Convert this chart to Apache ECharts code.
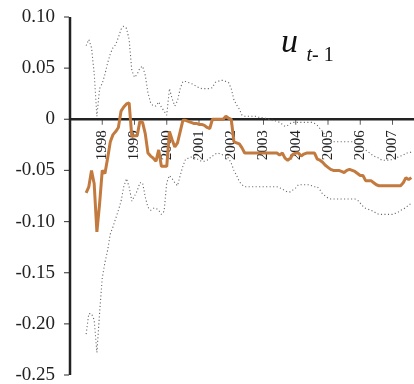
<!DOCTYPE html>
<html>
<head>
<meta charset="utf-8">
<script src="https://cdn.jsdelivr.net/npm/echarts@6/dist/echarts.min.js"></script>
<style>html,body{margin:0;padding:0;background:#fff}#c{width:414px;height:384px}</style>
</head>
<body>
<div id="c"></div>
<script>
// month index of first observation (0 = axis start, 12 = 1998 tick)
const startMonth = 6;
const yearLabels = ['1998','1999','2000','2001','2002','2003','2004','2005','2006','2007'];
const xTickValues = [12, 24, 36, 48, 60, 72, 84, 96, 108, 120];
const yTickValues = [-0.25, -0.20, -0.15, -0.10, -0.05, 0, 0.05, 0.10];
const xRange = [0, 128];
const yRange = [-0.25, 0.10];

const coef = [
 -0.072,-0.066,-0.050,-0.063,-0.110,-0.083,-0.050,-0.053,-0.038,-0.022,
 -0.015,-0.012,-0.008,0.008,0.012,0.015,0.016,-0.017,-0.016,-0.016,
 -0.002,-0.003,-0.014,-0.033,-0.036,-0.038,-0.041,-0.030,-0.046,-0.046,
 -0.046,-0.012,-0.020,-0.027,-0.023,-0.012,-0.001,-0.001,-0.002,-0.003,
 -0.004,-0.004,-0.005,-0.005,-0.006,-0.008,-0.009,0.000,0.000,0.000,
 0.000,0.000,0.003,0.001,0.000,-0.022,-0.023,-0.024,-0.028,-0.033,
 -0.033,-0.033,-0.033,-0.033,-0.033,-0.033,-0.033,-0.033,-0.033,-0.033,
 -0.033,-0.033,-0.035,-0.033,-0.038,-0.040,-0.038,-0.034,-0.033,-0.033,
 -0.036,-0.034,-0.033,-0.033,-0.033,-0.033,-0.039,-0.040,-0.042,-0.045,
 -0.047,-0.049,-0.050,-0.050,-0.050,-0.051,-0.052,-0.050,-0.049,-0.050,
 -0.051,-0.053,-0.055,-0.055,-0.060,-0.060,-0.060,-0.062,-0.064,-0.065,
 -0.065,-0.065,-0.065,-0.065,-0.065,-0.065,-0.065,-0.065,-0.062,-0.057,
 -0.059,-0.057
];

const upper = [
 0.072,0.078,0.070,0.045,0.003,0.030,0.035,0.044,0.055,0.064,
 0.070,0.073,0.080,0.088,0.091,0.089,0.078,0.048,0.041,0.044,
 0.050,0.052,0.043,0.026,0.016,0.013,0.013,0.017,0.012,0.008,
 0.004,0.030,0.020,0.013,0.018,0.030,0.037,0.037,0.036,0.035,
 0.034,0.032,0.031,0.030,0.030,0.030,0.030,0.031,0.036,0.037,
 0.038,0.038,0.037,0.036,0.030,0.019,0.014,0.010,0.004,0.003,
 0.003,0.003,0.003,0.003,0.002,0.002,0.001,0.001,0.000,-0.001,
 -0.001,-0.002,-0.003,-0.005,-0.007,-0.006,-0.004,-0.003,-0.003,-0.003,
 -0.003,-0.003,-0.003,-0.003,-0.003,-0.004,-0.006,-0.009,-0.012,-0.016,
 -0.019,-0.022,-0.022,-0.022,-0.022,-0.022,-0.022,-0.022,-0.022,-0.022,
 -0.022,-0.024,-0.026,-0.028,-0.030,-0.032,-0.034,-0.036,-0.037,-0.038,
 -0.040,-0.040,-0.040,-0.040,-0.039,-0.038,-0.037,-0.036,-0.035,-0.033,
 -0.033,-0.032
];

const lower = [
 -0.210,-0.190,-0.190,-0.196,-0.228,-0.190,-0.155,-0.140,-0.128,-0.112,
 -0.105,-0.097,-0.089,-0.080,-0.066,-0.058,-0.066,-0.080,-0.075,-0.070,
 -0.062,-0.062,-0.076,-0.086,-0.089,-0.087,-0.087,-0.089,-0.093,-0.090,
 -0.062,-0.055,-0.058,-0.062,-0.065,-0.055,-0.046,-0.039,-0.038,-0.037,
 -0.037,-0.038,-0.040,-0.041,-0.041,-0.040,-0.038,-0.036,-0.034,-0.033,
 -0.034,-0.035,-0.035,-0.038,-0.043,-0.050,-0.055,-0.061,-0.064,-0.066,
 -0.066,-0.066,-0.066,-0.066,-0.066,-0.066,-0.066,-0.066,-0.066,-0.066,
 -0.066,-0.066,-0.067,-0.068,-0.070,-0.071,-0.071,-0.069,-0.067,-0.064,
 -0.064,-0.064,-0.064,-0.064,-0.065,-0.066,-0.066,-0.069,-0.073,-0.075,
 -0.077,-0.078,-0.078,-0.078,-0.078,-0.078,-0.078,-0.078,-0.078,-0.078,
 -0.078,-0.079,-0.082,-0.085,-0.087,-0.088,-0.089,-0.090,-0.092,-0.093,
 -0.093,-0.093,-0.093,-0.093,-0.093,-0.092,-0.091,-0.089,-0.088,-0.086,
 -0.084,-0.082
];

const gridTop = 17, gridBottom = 9, chartH = 384;
const gridH = chartH - gridTop - gridBottom;
// move the x axis labels from the grid bottom up to y = 0
const xAxisOffset = -gridH * (0 - yRange[0]) / (yRange[1] - yRange[0]);

const toPairs = arr => arr.map((v, i) => [startMonth + i, v]);
const serif = '"Liberation Serif", "Times New Roman", serif';

function yFmt(v) {
  const n = Number(v);
  if (!isFinite(n)) return '';
  return Math.abs(n) < 1e-9 ? '0' : n.toFixed(2);
}
function xFmt(v) {
  const n = Math.round(Number(v));
  const k = n / 12 - 1;
  return (n % 12 === 0 && k >= 0 && k < yearLabels.length) ? yearLabels[k] : '';
}

const frame = {silent: true, animation: false, clip: false, showSymbol: false, emphasis: {disabled: true}};

const chart = echarts.init(document.getElementById('c'), null, {renderer: 'canvas'});
chart.setOption({
  animation: false,
  title: {
    left: 281, top: 28, padding: 0,
    text: '{u|u}{s| }{t|t}{n|- 1}',
    textStyle: {
      fontFamily: serif, fontSize: 20, fontWeight: 'normal', color: '#111',
      rich: {
        u: {fontFamily: serif, fontSize: 34, fontStyle: 'italic', color: '#111', lineHeight: 38, verticalAlign: 'bottom', padding: [0, 0, 6, 0]},
        s: {fontFamily: serif, fontSize: 34, color: '#111', lineHeight: 22, verticalAlign: 'bottom'},
        t: {fontFamily: serif, fontSize: 20, fontStyle: 'italic', color: '#111', lineHeight: 22, verticalAlign: 'bottom'},
        n: {fontFamily: serif, fontSize: 20, color: '#111', lineHeight: 22, verticalAlign: 'bottom'}
      }
    }
  },
  grid: {left: 70, right: 0, top: gridTop, bottom: gridBottom, outerBoundsMode: 'none'},
  xAxis: {
    type: 'value', min: xRange[0], max: xRange[1], interval: 12, position: 'bottom', offset: xAxisOffset,
    axisLine: {show: false, onZero: false},
    axisTick: {show: false},
    splitLine: {show: false},
    axisLabel: {
      rotate: 90, margin: 11, color: '#222', fontFamily: serif, fontSize: 15,
      padding: [0, 0, 8, 0], showMaxLabel: false, formatter: xFmt
    }
  },
  yAxis: {
    type: 'value', min: yRange[0], max: yRange[1], interval: 0.05,
    axisLine: {show: false, onZero: false},
    axisTick: {show: false},
    splitLine: {show: false},
    axisLabel: {margin: 15, color: '#222', fontFamily: serif, fontSize: 19, formatter: yFmt}
  },
  series: [
    // axis frame drawn through the scales
    Object.assign({type: 'line', data: xRange.map(x => [x, 0]),
      lineStyle: {color: '#222', width: 2.5}}, frame),
    Object.assign({type: 'line', data: yRange.map(y => [0, y]),
      lineStyle: {color: '#222', width: 2.5}}, frame),
    Object.assign({type: 'scatter', data: xTickValues.map(x => [x, 0]),
      symbol: 'rect', symbolSize: [1, 5], symbolOffset: [0, 3],
      itemStyle: {color: '#333'}}, frame),
    Object.assign({type: 'scatter', data: yTickValues.map(y => [0, y]),
      symbol: 'rect', symbolSize: [5, 1.2], symbolOffset: [-3.5, 0],
      itemStyle: {color: '#222'}}, frame),
    // confidence band and coefficient path
    {type: 'line', data: toPairs(upper), showSymbol: false, silent: true,
     lineStyle: {color: '#666', width: 1.1, type: [1.1, 2.4]}},
    {type: 'line', data: toPairs(lower), showSymbol: false, silent: true,
     lineStyle: {color: '#666', width: 1.1, type: [1.1, 2.4]}},
    {type: 'line', data: toPairs(coef), showSymbol: false, silent: true,
     lineStyle: {color: '#C27A3E', width: 3}}
  ]
});
</script>
</body>
</html>
